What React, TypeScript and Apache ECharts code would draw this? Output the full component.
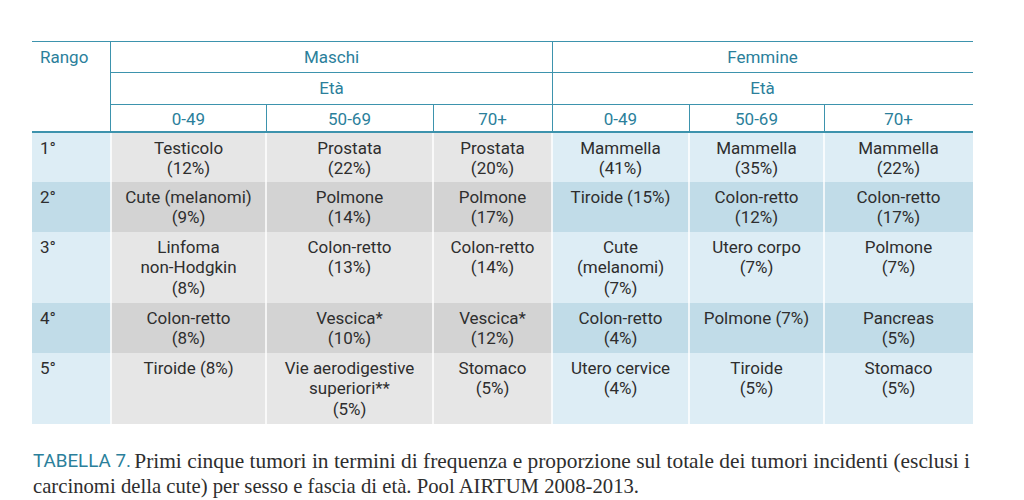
import React, { useEffect, useRef } from "react";
import * as echarts from "echarts";

// ---- Data ----
const ranks = ["1°", "2°", "3°", "4°", "5°"];
const sexes = ["Maschi", "Femmine"];
const ageGroups = ["0-49", "50-69", "70+"];
const headerRango = "Rango";
const headerAge = "Età";

const maschi0049 = ["Testicolo\n(12%)", "Cute (melanomi)\n(9%)", "Linfoma\nnon-Hodgkin\n(8%)", "Colon-retto\n(8%)", "Tiroide (8%)"];
const maschi5069 = ["Prostata\n(22%)", "Polmone\n(14%)", "Colon-retto\n(13%)", "Vescica*\n(10%)", "Vie aerodigestive\nsuperiori**\n(5%)"];
const maschi70 = ["Prostata\n(20%)", "Polmone\n(17%)", "Colon-retto\n(14%)", "Vescica*\n(12%)", "Stomaco\n(5%)"];
const femmine0049 = ["Mammella\n(41%)", "Tiroide (15%)", "Cute\n(melanomi)\n(7%)", "Colon-retto\n(4%)", "Utero cervice\n(4%)"];
const femmine5069 = ["Mammella\n(35%)", "Colon-retto\n(12%)", "Utero corpo\n(7%)", "Polmone (7%)", "Tiroide\n(5%)"];
const femmine70 = ["Mammella\n(22%)", "Colon-retto\n(17%)", "Polmone\n(7%)", "Pancreas\n(5%)", "Stomaco\n(5%)"];

const captionLabel = "TABELLA 7.";
const captionLine1 = "Primi cinque tumori in termini di frequenza e proporzione sul totale dei tumori incidenti (esclusi i";
const captionLine2 = "carcinomi della cute) per sesso e fascia di età. Pool AIRTUM 2008-2013.";

// ---- Layout ----
const colX = [32, 111, 266, 433, 552, 689, 824, 973];
const rowY = [133, 182, 232, 303, 353, 424];
const headY = [41, 72, 104, 132];

const TEAL_LINE = "#3d93ad";
const TEAL_TEXT = "#2b7f9b";
const TEXT = "#2e2e2e";
const GRAY_ODD = "#e6e6e6";
const GRAY_EVEN = "#d3d3d3";
const BLUE_ODD = "#ddedf5";
const BLUE_EVEN = "#c1dce8";
const FONT = "Roboto, 'DejaVu Sans', sans-serif";
const SERIF = "'Liberation Serif', 'DejaVu Serif', serif";

export default function App() {
  const ref = useRef<HTMLDivElement>(null);
  useEffect(() => {
    if (!ref.current) return;
    const chart = echarts.init(ref.current, undefined, { renderer: "svg" });
    const columns = [maschi0049, maschi5069, maschi70, femmine0049, femmine5069, femmine70];
    const els: any[] = [];

    // cell backgrounds
    for (let r = 0; r < ranks.length; r++) {
      const even = r % 2 === 1;
      for (let c = 0; c < 7; c++) {
        const isGray = c >= 1 && c <= 3;
        const fill = isGray ? (even ? GRAY_EVEN : GRAY_ODD) : (even ? BLUE_EVEN : BLUE_ODD);
        els.push({
          type: "rect",
          shape: { x: colX[c], y: rowY[r], width: colX[c + 1] - colX[c], height: rowY[r + 1] - rowY[r] },
          style: { fill },
          silent: true,
        });
      }
    }
    // white separators between data columns
    for (let c = 1; c < 7; c++) {
      els.push({
        type: "line",
        shape: { x1: colX[c], y1: rowY[0], x2: colX[c], y2: rowY[rowY.length - 1] },
        style: { stroke: "#ffffff", lineWidth: 1.5 },
        silent: true,
      });
    }

    // header lines
    const hl = (x1: number, y1: number, x2: number, y2: number, w = 1) =>
      els.push({ type: "line", shape: { x1, y1, x2, y2 }, style: { stroke: TEAL_LINE, lineWidth: w }, silent: true });
    hl(colX[0], headY[0] + 0.5, colX[7], headY[0] + 0.5);
    hl(colX[1], headY[1] + 0.5, colX[7], headY[1] + 0.5);
    hl(colX[1], headY[2] + 0.5, colX[7], headY[2] + 0.5);
    hl(colX[0], headY[3], colX[7], headY[3], 2);
    hl(colX[1] - 0.5, headY[0], colX[1] - 0.5, headY[3]);
    hl(colX[4] + 0.5, headY[0], colX[4] + 0.5, headY[3]);
    [2, 3, 5, 6].forEach((c) => hl(colX[c] + 0.5, headY[2], colX[c] + 0.5, headY[3]));

    // header texts
    const ht = (text: string, x: number, y: number, align = "center") =>
      els.push({
        type: "text",
        x,
        y,
        style: { text, fill: TEAL_TEXT, font: `17px ${FONT}`, align, verticalAlign: "middle" },
        silent: true,
      });
    ht(headerRango, 40, 57, "left");
    sexes.forEach((s, i) => {
      const x0 = colX[1 + i * 3];
      const x1 = colX[4 + i * 3];
      ht(s, (x0 + x1) / 2, 57);
      ht(headerAge, (x0 + x1) / 2, 88);
      ageGroups.forEach((a, j) => {
        const c = 1 + i * 3 + j;
        ht(a, (colX[c] + colX[c + 1]) / 2, 119);
      });
    });

    // rank labels and cell texts
    ranks.forEach((rk, r) => {
      els.push({
        type: "text",
        x: 40,
        y: rowY[r] + 4.5,
        style: { text: rk, fill: TEXT, font: `17px ${FONT}`, align: "left", verticalAlign: "top", lineHeight: 20.5 },
        silent: true,
      });
      columns.forEach((col, ci) => {
        const c = ci + 1;
        els.push({
          type: "text",
          x: (colX[c] + colX[c + 1]) / 2,
          y: rowY[r] + 4.5,
          style: {
            text: col[r],
            fill: TEXT,
            font: `17px ${FONT}`,
            align: "center",
            verticalAlign: "top",
            lineHeight: 20.5,
          },
          silent: true,
        });
      });
    });

    // caption
    els.push({
      type: "text",
      x: 33,
      y: 461,
      style: {
        text: `{a|${captionLabel}} {b|${captionLine1}}`,
        verticalAlign: "middle",
        align: "left",
        rich: {
          a: { fill: TEAL_TEXT, fontSize: 18.8, fontFamily: FONT },
          b: { fill: TEXT, fontSize: 21.4, fontFamily: SERIF },
        },
      },
      silent: true,
    });
    els.push({
      type: "text",
      x: 33,
      y: 486,
      style: {
        text: captionLine2,
        fill: TEXT,
        font: `20.7px ${SERIF}`,
        align: "left",
        verticalAlign: "middle",
      },
      silent: true,
    });

    chart.setOption({ animation: false, backgroundColor: "#ffffff", graphic: { elements: els } });
    return () => chart.dispose();
  }, []);
  return <div ref={ref} style={{ position: "fixed", left: 0, top: 0, width: 1024, height: 500 }} />;
}
